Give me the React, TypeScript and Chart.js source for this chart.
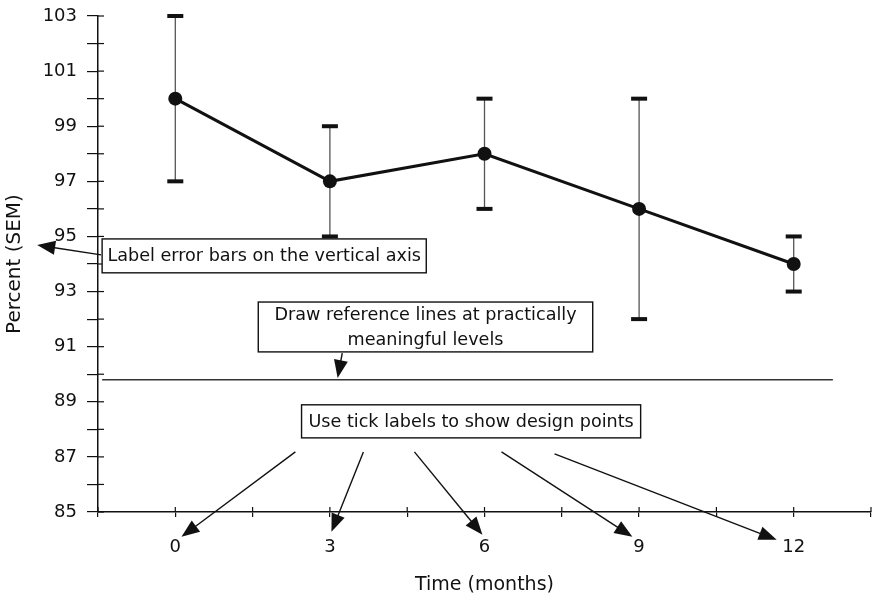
import { useEffect, useRef } from "react";
import { Chart, registerables } from "chart.js";

Chart.register(...registerables);

// Stability study: mean percent of initial with SEM limits
const months = [0, 3, 6, 9, 12];
const meanPercent = [100, 97, 98, 96, 94];
const lowerSem = [97, 95, 96, 92, 93];
const upperSem = [103, 99, 100, 100, 95];

// Practically meaningful reference level
const referenceLevel = 89.8;
const referenceSpan = [-1.42, 12.76];

// Tick labels
const yTickLabels = [85, 87, 89, 91, 93, 95, 97, 99, 101, 103];
const xTickLabels = [0, 3, 6, 9, 12];

const FONT = "'DejaVu Sans', sans-serif";
const INK = "#111";

type Pt = [number, number];
type Note = {
  lines: string[];
  box: [number, number, number, number]; // x0, y0, x1, y1 in data units
  arrows: [Pt, Pt][];
};

const notes: Note[] = [
  {
    lines: ["Label error bars on the vertical axis"],
    box: [-1.42, 94.91, 4.87, 93.68],
    arrows: [[[-1.44, 94.33], [-2.68, 94.69]]],
  },
  {
    lines: ["Draw reference lines at practically", "meaningful levels"],
    box: [1.61, 92.62, 8.1, 90.81],
    arrows: [[[3.24, 90.77], [3.15, 89.86]]],
  },
  {
    lines: ["Use tick labels to show design points"],
    box: [2.45, 88.89, 9.03, 87.69],
    arrows: [
      [[2.33, 87.18], [0.12, 84.1]],
      [[3.65, 87.18], [3.03, 84.28]],
      [[4.64, 87.18], [5.96, 84.17]],
      [[6.33, 87.18], [8.87, 84.1]],
      [[7.36, 87.11], [11.67, 83.99]],
    ],
  },
];

function drawArrow(ctx: CanvasRenderingContext2D, x1: number, y1: number, x2: number, y2: number) {
  const a = Math.atan2(y2 - y1, x2 - x1);
  const L = 18;
  const W = 7;
  ctx.beginPath();
  ctx.moveTo(x1, y1);
  ctx.lineTo(x2 - (L - 2) * Math.cos(a), y2 - (L - 2) * Math.sin(a));
  ctx.stroke();
  ctx.beginPath();
  ctx.moveTo(x2, y2);
  ctx.lineTo(x2 - L * Math.cos(a) + W * Math.sin(a), y2 - L * Math.sin(a) - W * Math.cos(a));
  ctx.lineTo(x2 - L * Math.cos(a) - W * Math.sin(a), y2 - L * Math.sin(a) + W * Math.cos(a));
  ctx.closePath();
  ctx.fill();
}

const errorBars = {
  id: "errorBars",
  beforeDatasetsDraw(chart: any) {
    const { ctx } = chart;
    const x = chart.scales.x;
    const y = chart.scales.y;
    ctx.save();
    months.forEach((m, i) => {
      const px = x.getPixelForValue(m);
      const lo = y.getPixelForValue(lowerSem[i]);
      const hi = y.getPixelForValue(upperSem[i]);
      ctx.strokeStyle = "#555";
      ctx.lineWidth = 1.3;
      ctx.beginPath();
      ctx.moveTo(px, lo);
      ctx.lineTo(px, hi);
      ctx.stroke();
      ctx.fillStyle = INK;
      ctx.fillRect(px - 8, hi - 2, 16, 4);
      ctx.fillRect(px - 8, lo - 2, 16, 4);
    });
    ctx.restore();
  },
};

const innerTicks = {
  id: "innerTicks",
  afterDraw(chart: any) {
    const { ctx, chartArea } = chart;
    const x = chart.scales.x;
    const y = chart.scales.y;
    ctx.save();
    ctx.strokeStyle = INK;
    ctx.lineWidth = 1.2;
    y.ticks.forEach((t: any) => {
      const py = y.getPixelForValue(t.value);
      ctx.beginPath();
      ctx.moveTo(chartArea.left, py);
      ctx.lineTo(chartArea.left + 6, py);
      ctx.stroke();
    });
    x.ticks.forEach((t: any) => {
      const px = x.getPixelForValue(t.value);
      ctx.beginPath();
      ctx.moveTo(px, chartArea.bottom);
      ctx.lineTo(px, chartArea.bottom - 5);
      ctx.stroke();
    });
    ctx.restore();
  },
};

const annotations = {
  id: "annotations",
  afterDraw(chart: any) {
    const { ctx } = chart;
    const x = chart.scales.x;
    const y = chart.scales.y;
    const px = (v: number) => x.getPixelForValue(v);
    const py = (v: number) => y.getPixelForValue(v);
    ctx.save();
    ctx.strokeStyle = INK;
    ctx.fillStyle = INK;
    ctx.lineWidth = 1.4;
    notes.forEach((n) => {
      const [bx0, by0, bx1, by1] = n.box;
      const x0 = px(bx0);
      const y0 = py(by0);
      const x1 = px(bx1);
      const y1 = py(by1);
      ctx.fillStyle = "#fff";
      ctx.fillRect(x0, y0, x1 - x0, y1 - y0);
      ctx.strokeRect(x0, y0, x1 - x0, y1 - y0);
      ctx.fillStyle = INK;
      ctx.font = `17.6px ${FONT}`;
      ctx.textAlign = "center";
      ctx.textBaseline = "middle";
      const lh = (y1 - y0) / n.lines.length;
      n.lines.forEach((line, i) => {
        ctx.fillText(line, (x0 + x1) / 2, y0 + lh * (i + 0.5) + 1);
      });
      n.arrows.forEach(([from, to]) => {
        drawArrow(ctx, px(from[0]), py(from[1]), px(to[0]), py(to[1]));
      });
    });
    ctx.restore();
  },
};

export default function App() {
  const canvasRef = useRef<HTMLCanvasElement | null>(null);

  useEffect(() => {
    if (!canvasRef.current) return;
    const chart = new Chart(canvasRef.current, {
      type: "line",
      data: {
        datasets: [
          {
            label: "Mean",
            data: months.map((m, i) => ({ x: m, y: meanPercent[i] })),
            borderColor: INK,
            backgroundColor: INK,
            borderWidth: 3,
            pointRadius: 7,
            pointBackgroundColor: INK,
            pointBorderWidth: 0,
          },
          {
            label: "Reference",
            data: referenceSpan.map((m) => ({ x: m, y: referenceLevel })),
            borderColor: "#333",
            borderWidth: 1.3,
            pointRadius: 0,
          },
        ],
      },
      options: {
        responsive: false,
        animation: false,
        devicePixelRatio: 1,
        layout: { padding: { top: 16, right: 0, left: 0, bottom: 0 } },
        plugins: { legend: { display: false }, tooltip: { enabled: false } },
        scales: {
          x: {
            type: "linear",
            min: -1.5,
            max: 13.5,
            afterFit: (s: any) => {
              s.height = 87;
              s.paddingLeft = 0;
              s.paddingRight = 0;
              if (s._margins) {
                s._margins.left = 0;
                s._margins.right = 0;
              }
            },
            ticks: {
              stepSize: 1.5,
              autoSkip: false,
              maxRotation: 0,
              padding: 20,
              color: INK,
              font: { family: FONT, size: 18 },
              callback: (v: any) => (xTickLabels.includes(Number(v)) ? String(v) : ""),
            },
            grid: { drawOnChartArea: false, tickLength: 5, color: INK, lineWidth: 1.2 },
            border: { color: INK, width: 1.5 },
            title: {
              display: true,
              text: "Time (months)",
              color: INK,
              font: { family: FONT, size: 19 },
              padding: { top: 0, bottom: 3 },
            },
          },
          y: {
            type: "linear",
            min: 85,
            max: 103,
            afterFit: (s: any) => {
              s.width = 98;
              s.paddingTop = 0;
              s.paddingBottom = 0;
            },
            ticks: {
              stepSize: 1,
              autoSkip: false,
              padding: 10,
              color: INK,
              font: { family: FONT, size: 18 },
              callback: (v: any) => (yTickLabels.includes(Number(v)) ? String(v) : ""),
            },
            grid: { drawOnChartArea: false, tickLength: 11, color: INK, lineWidth: 1.2 },
            border: { color: INK, width: 1.5 },
            title: {
              display: true,
              text: "Percent (SEM)",
              color: INK,
              font: { family: FONT, size: 20 },
              padding: { top: 3, bottom: 0 },
            },
          },
        },
      },
      plugins: [errorBars, innerTicks, annotations],
    });
    return () => chart.destroy();
  }, []);

  return (
    <div
      style={{
        position: "fixed",
        left: 0,
        top: 0,
        width: 873,
        height: 599,
        overflow: "hidden",
        background: "#fff",
      }}
    >
      <canvas ref={canvasRef} width={878} height={599} style={{ display: "block" }} />
    </div>
  );
}
